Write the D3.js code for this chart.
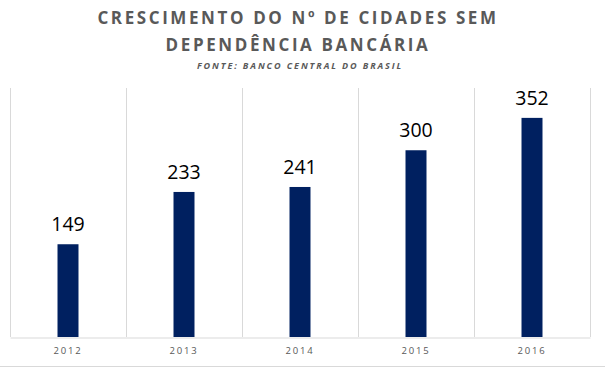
<!DOCTYPE html>
<html>
<head>
<meta charset="utf-8">
<script src="https://cdn.jsdelivr.net/npm/d3@7"></script>
<style>
  body { margin: 0; background: #fff; }
  svg { display: block; }
</style>
</head>
<body>
<div id="chart"></div>
<script>
var anos = ["2012", "2013", "2014", "2015", "2016"];
var cidades = [149, 233, 241, 300, 352];
var titulo = ["CRESCIMENTO DO Nº DE CIDADES SEM", "DEPENDÊNCIA BANCÁRIA"];
var fonte = "FONTE: BANCO CENTRAL DO BRASIL";

var width = 605, height = 367;
var margin = {top: 88, right: 15, bottom: 30, left: 10};

var svg = d3.select("#chart").append("svg")
  .attr("width", width)
  .attr("height", height);

var x = d3.scaleBand()
  .domain(anos)
  .range([margin.left, width - margin.right])
  .padding(0);

var y = d3.scaleLinear()
  .domain([0, 400])
  .range([height - margin.bottom, margin.top]);

var barW = x.bandwidth() * 0.181;

// titulo
svg.selectAll(".titulo")
  .data(titulo)
  .enter().append("text")
  .attr("class", "titulo")
  .attr("x", 298)
  .attr("y", function(d, i) { return 23.5 + i * 27; })
  .attr("text-anchor", "middle")
  .style("font-family", "'Open Sans', sans-serif")
  .style("font-weight", "bold")
  .style("font-size", "17px")
  .style("letter-spacing", "2.6px")
  .style("fill", "#595959")
  .text(function(d) { return d; });

svg.append("text")
  .attr("x", 300)
  .attr("y", 68.5)
  .attr("text-anchor", "middle")
  .style("font-family", "'Open Sans', sans-serif")
  .style("font-weight", "bold")
  .style("font-style", "italic")
  .style("font-size", "9px")
  .style("letter-spacing", "1.9px")
  .style("fill", "#595959")
  .text(fonte);

// linhas verticais de grade
var bordas = anos.map(function(d) { return x(d); }).concat([x.range()[1]]);
svg.selectAll(".grade")
  .data(bordas)
  .enter().append("line")
  .attr("class", "grade")
  .attr("x1", function(d) { return Math.round(d) + 0.5; })
  .attr("x2", function(d) { return Math.round(d) + 0.5; })
  .attr("y1", y(400))
  .attr("y2", y(0))
  .attr("stroke", "#d9d9d9")
  .attr("stroke-width", 1);

// eixo x
var eixo = svg.append("g")
  .attr("transform", "translate(0," + (y(0) + 0.5) + ")")
  .call(d3.axisBottom(x).tickSize(0).tickPadding(10));
eixo.select(".domain").attr("stroke", "#d9d9d9");
eixo.selectAll("text")
  .style("font-family", "'Open Sans', sans-serif")
  .style("font-size", "9.5px")
  .style("letter-spacing", "1.8px")
  .style("fill", "#595959");

// borda inferior
svg.append("line")
  .attr("x1", 0).attr("x2", width)
  .attr("y1", 366.5).attr("y2", 366.5)
  .attr("stroke", "#d9d9d9");

// barras
svg.selectAll(".bar")
  .data(cidades)
  .enter().append("rect")
  .attr("class", "bar")
  .attr("x", function(d, i) { return x(anos[i]) + x.bandwidth() / 2 - barW / 2; })
  .attr("width", barW)
  .attr("y", function(d) { return y(d); })
  .attr("height", function(d) { return y(0) - y(d); })
  .attr("fill", "#002060");

// rotulos
svg.selectAll(".rotulo")
  .data(cidades)
  .enter().append("text")
  .attr("class", "rotulo")
  .attr("x", function(d, i) { return x(anos[i]) + x.bandwidth() / 2; })
  .attr("y", function(d) { return y(d) - 13; })
  .attr("text-anchor", "middle")
  .style("font-family", "'Open Sans', sans-serif")
  .style("font-size", "19.5px")
  .style("fill", "#000")
  .text(function(d) { return d; });
</script>
</body>
</html>
